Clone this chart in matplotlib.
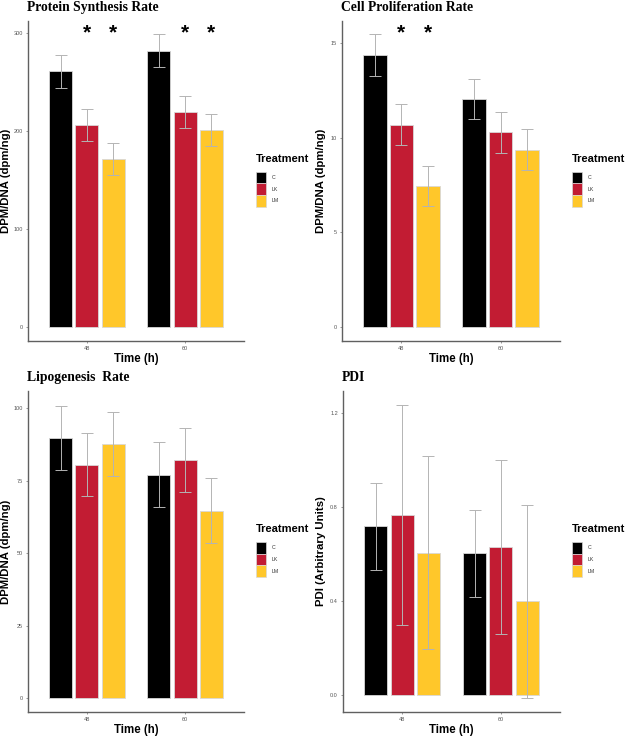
import matplotlib
matplotlib.use('Agg')
import matplotlib.pyplot as plt
from matplotlib.patches import Rectangle
import numpy as np

# ---------------- data ----------------
times = ['48', '60']
treatments = ['C', 'LK', 'LM']
colors = ['#000000', '#C21C33', '#FFC72A']

protein_means = [[261.0, 282.3], [206.6, 219.2], [171.5, 200.8]]
protein_err = [[16.5, 16.5], [16.4, 16.4], [16.4, 16.4]]
protein_star = [[False, False], [True, True], [True, True]]

prolif_means = [[14.38, 12.05], [10.68, 10.29], [7.45, 9.37]]
prolif_err = [[1.09, 1.08], [1.09, 1.08], [1.08, 1.07]]
prolif_star = [[False, False], [True, False], [True, False]]

lipo_means = [[89.7, 77.1], [80.6, 82.2], [87.6, 64.6]]
lipo_err = [[11.1, 11.3], [11.0, 11.0], [11.1, 11.2]]
lipo_star = [[False, False], [False, False], [False, False]]

pdi_means = [[0.718, 0.603], [0.767, 0.630], [0.606, 0.399]]
pdi_err = [[0.185, 0.184], [0.467, 0.370], [0.411, 0.410]]
pdi_star = [[False, False], [False, False], [False, False]]

W, H = 629, 740
fig = plt.figure(figsize=(W / 100, H / 100), dpi=100)

SANS = 'Liberation Sans'
SERIF = 'Liberation Serif'


def fx(x):
    return x / W


def fy(y):
    return 1 - y / H


panels = [
    dict(title='Protein Synthesis Rate', ylabel='DPM/DNA (dpm/ng)',
         means=protein_means, err=protein_err, star=protein_star,
         box=(28, 244, 21, 341), ylim=(-14.7, 312.6),
         yticks=[0, 100, 200, 300], yticklabels=['0', '100', '200', '300'],
         star_y=300),
    dict(title='Cell Proliferation Rate', ylabel='DPM/DNA (dpm/ng)',
         means=prolif_means, err=prolif_err, star=prolif_star,
         box=(342, 560, 21, 341), ylim=(-0.76, 16.18),
         yticks=[0, 5, 10, 15], yticklabels=['0', '5', '10', '15'],
         star_y=15.55),
    dict(title='Lipogenesis  Rate', ylabel='DPM/DNA (dpm/ng)',
         means=lipo_means, err=lipo_err, star=lipo_star,
         box=(28, 244, 391, 712), ylim=(-4.8, 106.0),
         yticks=[0, 25, 50, 75, 100], yticklabels=['0', '25', '50', '75', '100'],
         star_y=None),
    dict(title='PDI', ylabel='PDI (Arbitrary Units)',
         means=pdi_means, err=pdi_err, star=pdi_star,
         box=(343, 560, 391, 712), ylim=(-0.072, 1.295),
         yticks=[0, 0.4, 0.8, 1.2], yticklabels=['0.0', '0.4', '0.8', '1.2'],
         star_y=None),
]

dodge = 0.8 / 3
bar_w = 0.235
x_base = np.arange(1, len(times) + 1)

for p in panels:
    l, r, t, b = p['box']
    ax = fig.add_axes([fx(l), fy(b), fx(r) - fx(l), (b - t) / H])
    for i, tr in enumerate(treatments):
        xs = x_base + (i - 1) * dodge
        ax.bar(xs, p['means'][i], width=bar_w, color=colors[i],
               edgecolor='#d8d8d8', linewidth=0.6, zorder=2)
        ax.errorbar(xs, p['means'][i], yerr=p['err'][i], fmt='none',
                    ecolor='#b4b4b4', elinewidth=0.7, capsize=4.3,
                    capthick=0.7, zorder=3)
        if p['star_y'] is not None:
            for j in range(len(times)):
                if p['star'][i][j]:
                    ax.text(xs[j], p['star_y'], '*', ha='center', va='center',
                            fontsize=15, fontweight='bold', family=SANS,
                            color='black', zorder=4)
    ax.set_xlim(0.4, 2.6)
    ax.set_ylim(*p['ylim'])
    ax.set_xticks(x_base)
    ax.set_xticklabels(times)
    ax.set_yticks(p['yticks'])
    ax.set_yticklabels(p['yticklabels'])
    for s in ['top', 'right']:
        ax.spines[s].set_visible(False)
    for s in ['left', 'bottom']:
        ax.spines[s].set_color('#606060')
        ax.spines[s].set_linewidth(1.0)
    ax.tick_params(axis='both', length=1.6, width=0.5, color='#707070',
                   labelsize=4.0, labelcolor='#555555', pad=2.2)
    for lab in ax.get_xticklabels() + ax.get_yticklabels():
        lab.set_family(SANS)

    # title
    fig.text(fx(l - 1), fy(t - 10), p['title'], family=SERIF,
             fontweight='bold', fontsize=9.8, ha='left', va='baseline')
    # axis labels
    cy = (t + b) / 2
    fig.text(fx(l - 21.5), fy(cy), p['ylabel'], family=SANS, fontweight='bold',
             fontsize=8.2, rotation=90, ha='center', va='center')
    fig.text(fx((l + r) / 2), fy(b + 18), 'Time (h)', family=SANS,
             fontweight='bold', fontsize=8.3, ha='center', va='center')

    # legend
    lx = r + 12
    fig.text(fx(lx), fy(cy - 22), 'Treatment', family=SANS, fontweight='bold',
             fontsize=8.0, ha='left', va='center')
    key_h = 11.7
    key_top = cy - 9.5
    for i, tr in enumerate(treatments):
        y0 = key_top + i * key_h
        fig.patches.append(Rectangle((fx(lx), fy(y0 + key_h)), 10 / W, key_h / H,
                                     transform=fig.transFigure,
                                     facecolor=colors[i], edgecolor='#d8d8d8',
                                     linewidth=0.5))
        fig.text(fx(lx + 16), fy(y0 + key_h / 2), tr, family=SANS,
                 fontsize=3.8, color='#333333', ha='left', va='center')

fig.savefig('out.png', dpi=100)
